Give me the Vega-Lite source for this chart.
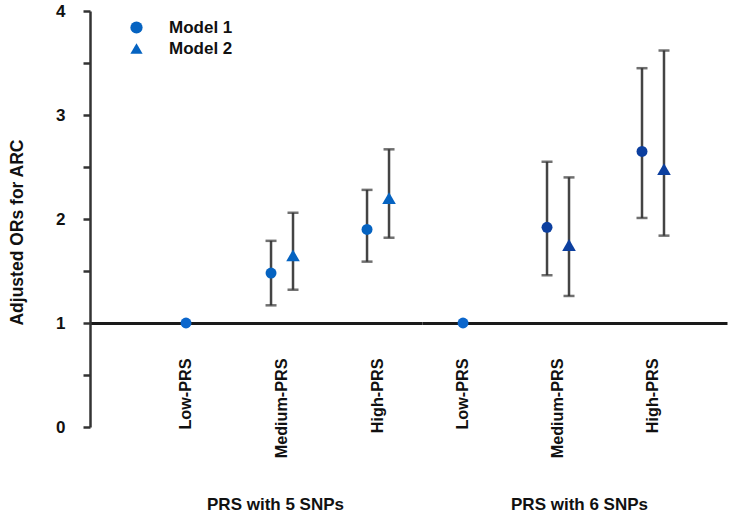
{
  "$schema": "https://vega.github.io/schema/vega-lite/v6.json",
  "padding": {"left": 8, "top": 2, "right": 5, "bottom": 5},
  "datasets": {
    "ors": [
      {"Group": "PRS with 5 SNPs", "Category": "Low-PRS", "Model": "Model 1", "OR": 1.0, "Lo": null, "Hi": null},
      {"Group": "PRS with 5 SNPs", "Category": "Medium-PRS", "Model": "Model 1", "OR": 1.48, "Lo": 1.17, "Hi": 1.79},
      {"Group": "PRS with 5 SNPs", "Category": "Medium-PRS", "Model": "Model 2", "OR": 1.65, "Lo": 1.32, "Hi": 2.06},
      {"Group": "PRS with 5 SNPs", "Category": "High-PRS", "Model": "Model 1", "OR": 1.90, "Lo": 1.59, "Hi": 2.28},
      {"Group": "PRS with 5 SNPs", "Category": "High-PRS", "Model": "Model 2", "OR": 2.20, "Lo": 1.82, "Hi": 2.67},
      {"Group": "PRS with 6 SNPs", "Category": "Low-PRS", "Model": "Model 1", "OR": 1.0, "Lo": null, "Hi": null},
      {"Group": "PRS with 6 SNPs", "Category": "Medium-PRS", "Model": "Model 1", "OR": 1.92, "Lo": 1.46, "Hi": 2.55},
      {"Group": "PRS with 6 SNPs", "Category": "Medium-PRS", "Model": "Model 2", "OR": 1.75, "Lo": 1.26, "Hi": 2.40},
      {"Group": "PRS with 6 SNPs", "Category": "High-PRS", "Model": "Model 1", "OR": 2.65, "Lo": 2.01, "Hi": 3.45},
      {"Group": "PRS with 6 SNPs", "Category": "High-PRS", "Model": "Model 2", "OR": 2.48, "Lo": 1.84, "Hi": 3.62}
    ]
  },
  "spacing": 0,
  "resolve": {"scale": {"y": "shared", "shape": "shared"}},
  "hconcat": [
    {
      "width": 332,
      "height": 416,
      "data": {"name": "ors"},
      "transform": [{"filter": "datum.Group === 'PRS with 5 SNPs'"}],
      "encoding": {
        "x": {
          "field": "Category", "type": "nominal", "sort": null,
          "scale": {"type": "band", "domain": ["Low-PRS", "Medium-PRS", "High-PRS"], "paddingInner": 0.542, "paddingOuter": 0.5, "align": 0.771},
          "axis": {"title": "PRS with 5 SNPs", "titleX": 185, "orient": "bottom", "offset": -104, "domain": true, "domainWidth": 3, "domainColor": "#1a1a1a", "ticks": false, "labelAngle": -90, "labelPadding": 35, "titlePadding": 39}
        }
      },
      "layer": [
        {
          "transform": [{"filter": "datum.Lo != null"}],
          "mark": {"type": "rule", "color": "#444444", "strokeWidth": 2.5},
          "encoding": {
            "xOffset": {"field": "Model", "type": "nominal", "scale": {"domain": ["Model 1", "Model 2"], "paddingInner": 0, "paddingOuter": 0}},
            "y": {"field": "Lo", "type": "quantitative", "scale": {"domain": [0, 4], "nice": false},
              "axis": {"title": "Adjusted ORs for ARC", "titleY": 221, "values": [0, 0.5, 1, 1.5, 2, 2.5, 3, 3.5, 4], "format": ".0f", "labelExpr": "datum.value % 1 === 0 ? datum.label : ''", "tickSize": 7, "tickWidth": 2.5, "domainWidth": 2.5, "domainColor": "#333333", "tickColor": "#333333", "grid": false, "labelPadding": 18, "titlePadding": 29}},
            "y2": {"field": "Hi"}
          }
        },
        {
          "transform": [{"filter": "datum.Lo != null"}],
          "mark": {"type": "tick", "color": "#333333", "size": 11, "thickness": 2.5},
          "encoding": {
            "xOffset": {"field": "Model", "type": "nominal"},
            "y": {"field": "Lo", "type": "quantitative"}
          }
        },
        {
          "transform": [{"filter": "datum.Lo != null"}],
          "mark": {"type": "tick", "color": "#333333", "size": 11, "thickness": 2.5},
          "encoding": {
            "xOffset": {"field": "Model", "type": "nominal"},
            "y": {"field": "Hi", "type": "quantitative"}
          }
        },
        {
          "transform": [{"filter": "datum.Lo != null"}],
          "mark": {"type": "point", "filled": true, "opacity": 1, "color": "#0563c1", "size": {"expr": "datum.Model === 'Model 2' ? 185 : 120"}},
          "encoding": {
            "xOffset": {"field": "Model", "type": "nominal"},
            "y": {"field": "OR", "type": "quantitative"},
            "shape": {"field": "Model", "type": "nominal",
              "scale": {"domain": ["Model 1", "Model 2"], "range": ["circle", "triangle-up"]},
              "legend": {"title": null, "orient": "none", "legendX": 38, "legendY": 8, "symbolSize": 150, "symbolFillColor": "#0563c1", "symbolStrokeWidth": 0, "labelFontSize": 17, "labelFontWeight": "bold", "labelColor": "#111111", "rowPadding": 3, "labelOffset": 24}}
          }
        },
        {
          "transform": [{"filter": "datum.Lo == null"}],
          "mark": {"type": "point", "filled": true, "opacity": 1, "color": "#0b66cc", "shape": "circle", "size": 120},
          "encoding": {"y": {"field": "OR", "type": "quantitative"}}
        }
      ]
    },
    {
      "width": 305,
      "height": 416,
      "data": {"name": "ors"},
      "transform": [{"filter": "datum.Group === 'PRS with 6 SNPs'"}],
      "encoding": {
        "x": {
          "field": "Category", "type": "nominal", "sort": null,
          "scale": {"type": "band", "domain": ["Low-PRS", "Medium-PRS", "High-PRS"], "paddingInner": 0.537, "paddingOuter": 0.374, "align": 0.268},
          "axis": {"title": "PRS with 6 SNPs", "titleX": 157, "orient": "bottom", "offset": -104, "domain": true, "domainWidth": 3, "domainColor": "#1a1a1a", "ticks": false, "labelAngle": -90, "labelPadding": 35, "titlePadding": 39}
        }
      },
      "layer": [
        {
          "transform": [{"filter": "datum.Lo != null"}],
          "mark": {"type": "rule", "color": "#444444", "strokeWidth": 2.5},
          "encoding": {
            "xOffset": {"field": "Model", "type": "nominal", "scale": {"domain": ["Model 1", "Model 2"], "paddingInner": 0, "paddingOuter": 0}},
            "y": {"field": "Lo", "type": "quantitative", "scale": {"domain": [0, 4], "nice": false}, "axis": null},
            "y2": {"field": "Hi"}
          }
        },
        {
          "transform": [{"filter": "datum.Lo != null"}],
          "mark": {"type": "tick", "color": "#333333", "size": 11, "thickness": 2.5},
          "encoding": {
            "xOffset": {"field": "Model", "type": "nominal"},
            "y": {"field": "Lo", "type": "quantitative", "axis": null}
          }
        },
        {
          "transform": [{"filter": "datum.Lo != null"}],
          "mark": {"type": "tick", "color": "#333333", "size": 11, "thickness": 2.5},
          "encoding": {
            "xOffset": {"field": "Model", "type": "nominal"},
            "y": {"field": "Hi", "type": "quantitative", "axis": null}
          }
        },
        {
          "transform": [{"filter": "datum.Lo != null"}],
          "mark": {"type": "point", "filled": true, "opacity": 1, "color": "#0c3f9f", "size": {"expr": "datum.Model === 'Model 2' ? 185 : 120"}},
          "encoding": {
            "xOffset": {"field": "Model", "type": "nominal"},
            "y": {"field": "OR", "type": "quantitative", "axis": null},
            "shape": {"field": "Model", "type": "nominal", "scale": {"domain": ["Model 1", "Model 2"], "range": ["circle", "triangle-up"]}, "legend": null}
          }
        },
        {
          "transform": [{"filter": "datum.Lo == null"}],
          "mark": {"type": "point", "filled": true, "opacity": 1, "color": "#0b66cc", "shape": "circle", "size": 120},
          "encoding": {"y": {"field": "OR", "type": "quantitative", "axis": null}}
        }
      ]
    }
  ],
  "config": {
    "view": {"stroke": null},
    "font": "Liberation Sans",
    "axis": {"labelFont": "Liberation Sans", "titleFont": "Liberation Sans", "labelFontSize": 17, "labelFontWeight": "bold", "labelColor": "#111111", "titleFontSize": 17.5, "titleFontWeight": "bold", "titleColor": "#111111"},
    "axisX": {"labelFontSize": 16.2, "titleFontSize": 17},
    "legend": {"labelFont": "Liberation Sans"}
  }
}
